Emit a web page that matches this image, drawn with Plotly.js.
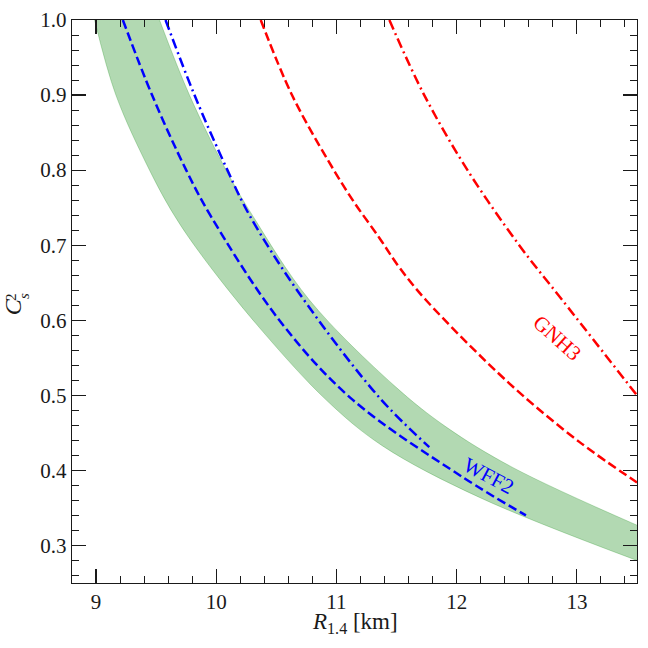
<!DOCTYPE html>
<html>
<head>
<meta charset="utf-8">
<script src="https://cdn.plot.ly/plotly-3.0.1.min.js"></script>
<style>
  html, body { margin: 0; padding: 0; background: #fff; }
  #plot { width: 648px; height: 648px; }
</style>
</head>
<body>
<div id="plot"></div>
<script>
// values: R_1.4 [km] against C_s^2
const bandLowerR = [8.988, 9.165, 9.445, 9.65, 9.89, 10.36, 10.92, 11.38, 12.19, 13.5];
const bandLowerC = [1.0, 0.9, 0.8, 0.74, 0.684, 0.59, 0.493, 0.433, 0.364, 0.28];
const bandUpperR = [9.528, 9.777, 10.082, 10.30, 10.775, 11.48, 11.911, 12.465, 13.5];
const bandUpperC = [1.0, 0.9, 0.8, 0.74, 0.627, 0.513, 0.458, 0.404, 0.327];

const wffDashR = [9.223, 9.466, 9.75, 9.95, 10.525, 11.121, 12.05, 12.576];
const wffDashC = [1.0, 0.9, 0.8, 0.74, 0.6, 0.496, 0.391, 0.34];
const wffDotR = [9.578, 9.819, 10.093, 10.276, 10.69, 11.357, 11.772];
const wffDotC = [1.0, 0.9, 0.8, 0.74, 0.636, 0.497, 0.431];

const gnhDashR = [10.37, 10.63, 10.93, 11.135, 11.36, 11.52, 11.744, 12.437, 13.02, 13.5];
const gnhDashC = [1.0, 0.9, 0.813, 0.76, 0.709, 0.671, 0.627, 0.516, 0.438, 0.384];
const gnhDotR = [11.44, 11.73, 12.09, 12.52, 12.878, 13.5];
const gnhDotC = [1.0, 0.9, 0.8, 0.7, 0.627, 0.5];

const serif = "'Liberation Serif', 'DejaVu Serif', serif";
const inkColor = '#1a1a1a';

function curve(x, y, color, dash) {
    return {
        x: x, y: y,
        mode: 'lines',
        type: 'scatter',
        line: { color: color, width: 2.5, dash: dash, shape: 'spline', smoothing: 1 },
        hoverinfo: 'skip'
    };
}

const data = [
    {
        x: bandLowerR, y: bandLowerC,
        mode: 'lines', type: 'scatter',
        line: { color: 'rgba(0,128,0,0.3)', width: 0.8, shape: 'spline', smoothing: 1 },
        hoverinfo: 'skip'
    },
    {
        x: bandUpperR, y: bandUpperC,
        mode: 'lines', type: 'scatter',
        fill: 'tonexty',
        fillcolor: 'rgba(0,128,0,0.3)',
        line: { color: 'rgba(0,128,0,0.3)', width: 0.8, shape: 'spline', smoothing: 1 },
        hoverinfo: 'skip'
    },
    curve(wffDashR, wffDashC, '#0000ff', '9px,4px'),
    curve(wffDotR, wffDotC, '#0000ff', '10px,4px,2px,4px'),
    curve(gnhDashR, gnhDashC, '#ff0000', '9px,4px'),
    curve(gnhDotR, gnhDotC, '#ff0000', '10px,4px,2px,4px')
];

const axisCommon = {
    showgrid: false,
    zeroline: false,
    showline: true,
    linecolor: inkColor,
    linewidth: 1.2,
    mirror: 'ticks',
    ticks: 'inside',
    ticklen: 14,
    tickwidth: 1.2,
    tickcolor: inkColor,
    tickfont: { family: serif, size: 21, color: inkColor }
};

const layout = {
    width: 648,
    height: 648,
    margin: { l: 72, r: 11, t: 20, b: 65 },
    paper_bgcolor: '#fff',
    plot_bgcolor: '#fff',
    font: { family: serif, color: inkColor },
    showlegend: false,
    xaxis: Object.assign({}, axisCommon, {
        range: [8.8, 13.5],
        dtick: 1,
        tick0: 9,
        minor: { dtick: 0.2, ticks: 'inside', ticklen: 7, tickwidth: 1, tickcolor: inkColor }
    }),
    yaxis: Object.assign({}, axisCommon, {
        range: [0.25, 1.0],
        dtick: 0.1,
        tick0: 0.3,
        tickformat: '.1f',
        minor: { dtick: 0.02, ticks: 'inside', ticklen: 7, tickwidth: 1, tickcolor: inkColor }
    }),
    annotations: [
        // x axis label
        { xref: 'paper', yref: 'paper', x: 0.501, y: 0, yshift: -40,
          text: '<i>R</i><sub>1.4</sub> [km]', showarrow: false,
          xanchor: 'center', yanchor: 'middle',
          font: { family: serif, size: 23, color: inkColor } },
        // y axis label, C with stacked 2 and s
        { xref: 'paper', yref: 'paper', x: 0, y: 0.49, xshift: -59, text: '<i>C</i>',
          textangle: -90, showarrow: false, xanchor: 'center', yanchor: 'middle',
          font: { family: serif, size: 24, color: inkColor } },
        { xref: 'paper', yref: 'paper', x: 0, y: 0.508, xshift: -61, text: '2',
          textangle: -90, showarrow: false, xanchor: 'center', yanchor: 'middle',
          font: { family: serif, size: 15, color: inkColor } },
        { xref: 'paper', yref: 'paper', x: 0, y: 0.509, xshift: -47.5, text: '<i>s</i>',
          textangle: -90, showarrow: false, xanchor: 'center', yanchor: 'middle',
          font: { family: serif, size: 15, color: inkColor } },
        // curve labels
        { x: 12.836, y: 0.576, text: 'GNH3', textangle: 42, showarrow: false,
          font: { family: serif, size: 21, color: '#ff0000' } },
        { x: 12.27, y: 0.393, text: 'WFF2', textangle: 28, showarrow: false,
          font: { family: serif, size: 21, color: '#0000ff' } }
    ]
};

Plotly.newPlot('plot', data, layout, { displayModeBar: false, staticPlot: true });
</script>
</body>
</html>
